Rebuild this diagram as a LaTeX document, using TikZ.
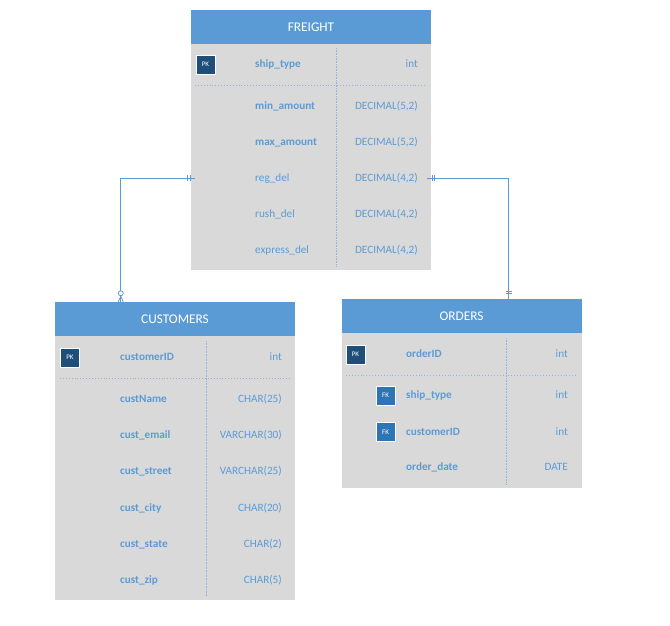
\documentclass[tikz,border=0pt]{standalone}
\usepackage{fontspec}
\setmainfont{Carlito}
\definecolor{hdrblue}{HTML}{5B9BD5}
\definecolor{bodygray}{HTML}{D9D9D9}
\definecolor{txtblue}{HTML}{5B9BD5}
\definecolor{pkblue}{HTML}{1F4E79}
\definecolor{fkblue}{HTML}{2E75B6}
\definecolor{sepblue}{HTML}{8FB4DE}
\definecolor{lineblue}{HTML}{5B9BD5}
\begin{document}
\begin{tikzpicture}[x=1pt,y=-1pt,
 hdr/.style={fill=hdrblue, draw=none, text=white, font=\fontsize{13.3}{15}\selectfont, minimum width=240pt, minimum height=34pt, inner sep=0pt},
 tbody/.style={fill=bodygray, draw=none, minimum width=240pt, inner sep=0pt, anchor=north},
 nm/.style={text=txtblue, font=\fontsize{11.2}{13}\selectfont, anchor=west, inner sep=0pt, text height=7.2pt, text depth=0pt},
 nmb/.style={nm, font=\fontsize{11.2}{13}\selectfont\bfseries},
 ty/.style={text=txtblue, font=\fontsize{11.2}{13}\selectfont, anchor=east, inner sep=0pt, text height=7.2pt, text depth=0pt},
 pk/.style={fill=pkblue, draw=white, line width=0.8pt, minimum size=19pt, inner sep=0pt, text=white, font=\fontsize{7}{8}\selectfont},
 fk/.style={pk, fill=fkblue},
 sepline/.style={draw=sepblue, dotted, line width=0.9pt},
 coldiv/.style={draw=sepblue, densely dotted, line width=0.6pt},
 conn/.style={draw=lineblue, line width=0.9pt},
 endmark/.style={draw=lineblue, line width=0.8pt}
]
\useasboundingbox[fill=white] (0,0) rectangle (670,625);

% ---------- FREIGHT ----------
\node[hdr] (freight) at (311,27) {FREIGHT};
\node[tbody, minimum height=226pt] (fbody) at (freight.south) {};
\draw[coldiv] (336,48) -- (336,266);
\draw[sepline] (195,85) -- (427,85);
\node[pk] (fpk) at (205.5,64.5) {PK};
\node[nmb] (f1) at (255,64) {ship\_type};
\node[nmb] (f2) at (255,106) {min\_amount};
\node[nmb] (f3) at (255,142) {max\_amount};
\node[nm]  (f4) at (255,178) {reg\_del};
\node[nm]  (f5) at (255,214) {rush\_del};
\node[nm]  (f6) at (255,250) {express\_del};
\node[ty] (ft1) at (418,64) {int};
\node[ty] (ft2) at (418,106) {DECIMAL(5,2)};
\node[ty] (ft3) at (418,142) {DECIMAL(5,2)};
\node[ty] (ft4) at (418,178) {DECIMAL(4,2)};
\node[ty] (ft5) at (418,214) {DECIMAL(4,2)};
\node[ty] (ft6) at (418,250) {DECIMAL(4,2)};

% ---------- CUSTOMERS ----------
\node[hdr] (cust) at (175,319) {CUSTOMERS};
\node[tbody, minimum height=264pt] (cbody) at (cust.south) {};
\draw[coldiv] (206,341) -- (206,596);
\draw[sepline] (60,378) -- (290,378);
\node[pk] (cpk) at (70,357.5) {PK};
\node[nmb] (c1) at (120,357) {customerID};
\node[nmb] (c2) at (120,399) {custName};
\node[nmb] (c3) at (120,435) {cust\_email};
\node[nmb] (c4) at (120,471) {cust\_street};
\node[nmb] (c5) at (120,508) {cust\_city};
\node[nmb] (c6) at (120,544) {cust\_state};
\node[nmb] (c7) at (120,580) {cust\_zip};
\node[ty] (ct1) at (282,357) {int};
\node[ty] (ct2) at (282,399) {CHAR(25)};
\node[ty] (ct3) at (282,435) {VARCHAR(30)};
\node[ty] (ct4) at (282,471) {VARCHAR(25)};
\node[ty] (ct5) at (282,508) {CHAR(20)};
\node[ty] (ct6) at (282,544) {CHAR(2)};
\node[ty] (ct7) at (282,580) {CHAR(5)};

% ---------- ORDERS ----------
\node[hdr] (orders) at (461.5,316) {ORDERS};
\node[tbody, minimum height=155pt] (obody) at (orders.south) {};
\draw[coldiv] (506,338) -- (506,484);
\draw[sepline] (346,375) -- (577,375);
\node[pk] (opk) at (355.5,354.5) {PK};
\node[fk] (ofk1) at (385.5,395.5) {FK};
\node[fk] (ofk2) at (385.5,432) {FK};
\node[nmb] (o1) at (406,354) {orderID};
\node[nmb] (o2) at (406,395) {ship\_type};
\node[nmb] (o3) at (406,432) {customerID};
\node[nmb] (o4) at (406,467) {order\_date};
\node[ty] (ot1) at (568,354) {int};
\node[ty] (ot2) at (568,395) {int};
\node[ty] (ot3) at (568,432) {int};
\node[ty] (ot4) at (568,467) {DATE};

% ---------- connectors ----------
\coordinate (custtop) at ([xshift=66pt]cust.north west);
\coordinate (ordtop) at ([xshift=-73pt]orders.north east);
\coordinate (fl) at (fbody.west |- f4);
\coordinate (fr) at (fbody.east |- ft4);

\draw[conn] ([xshift=4pt]fl) -| (custtop);
\draw[conn] ([xshift=-4pt]fr) -| (ordtop);

% one-and-only-one marks at FREIGHT
\draw[endmark] ([xshift=-3pt,yshift=3pt]fl) -- ([xshift=-3pt,yshift=-3pt]fl);
\draw[endmark] ([xshift=-0.5pt,yshift=3pt]fl) -- ([xshift=-0.5pt,yshift=-3pt]fl);
\draw[endmark] ([xshift=1pt,yshift=3pt]fr) -- ([xshift=1pt,yshift=-3pt]fr);
\draw[endmark] ([xshift=3.5pt,yshift=3pt]fr) -- ([xshift=3.5pt,yshift=-3pt]fr);

% one-and-only-one at ORDERS
\draw[endmark] ([xshift=-3pt,yshift=5pt]ordtop) -- ([xshift=3pt,yshift=5pt]ordtop);
\draw[endmark] ([xshift=-3pt,yshift=7.5pt]ordtop) -- ([xshift=3pt,yshift=7.5pt]ordtop);

% zero-or-many at CUSTOMERS
\draw[endmark, fill=white] ([yshift=8.5pt]custtop) circle[radius=2.5pt];
\draw[endmark] ([yshift=5.5pt]custtop) -- ([xshift=-2.5pt]custtop);
\draw[endmark] ([yshift=5.5pt]custtop) -- ([xshift=2.5pt]custtop);
\end{tikzpicture}
\end{document}
